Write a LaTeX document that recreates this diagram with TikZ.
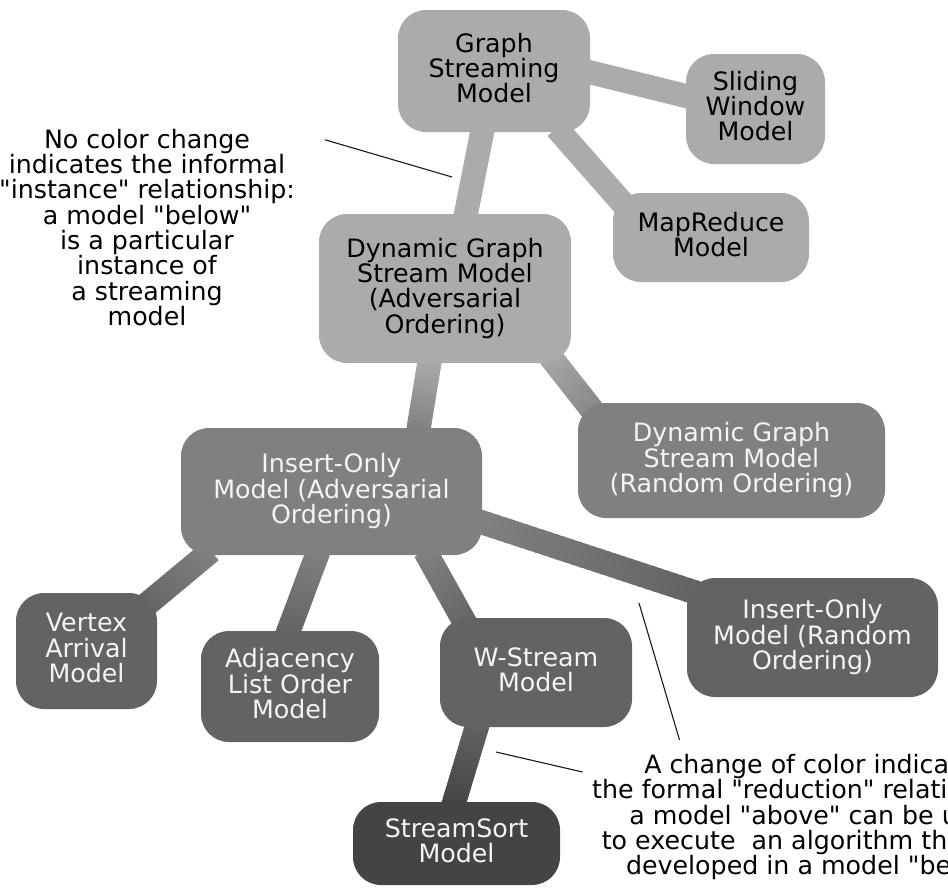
\documentclass[tikz,border=0pt]{standalone}
\usepackage{fontspec}
\setmainfont{DejaVu Sans}[Ligatures=TeXOff]
\usetikzlibrary{calc}

\pgfdeclarelayer{links}
\pgfsetlayers{links,main}

% grey levels of the model hierarchy
\definecolor{lvA}{HTML}{ABABAB}
\definecolor{lvB}{HTML}{808080}
\definecolor{lvC}{HTML}{636363}
\definecolor{lvD}{HTML}{444444}
\definecolor{lighttext}{HTML}{F4F4F4}

\newcommand\mapfont{\fontsize{25.3pt}{25.3pt}\selectfont}

% thick connector whose colour fades from #5 (at node #1) to #6 (at node #3);
% #2 and #4 are offsets of the end points from the node centres
\newcommand\gradlink[6]{%
  \foreach \i in {0,...,29}{%
    \pgfmathtruncatemacro\pct{round(100*(\i+0.5)/30)}%
    \draw[linkline, draw=#6!\pct!#5]
      ($([shift={#2}]#1.center)!{\i/30}!([shift={#4}]#3.center)$) --
      ($([shift={#2}]#1.center)!{min(1,(\i+1.5)/30)}!([shift={#4}]#3.center)$);
  }%
}

\begin{document}
\begin{tikzpicture}[x=1pt,y=-1pt,
  model/.style={rectangle, rounded corners=28pt, inner sep=0pt, align=center,
    font=\mapfont,
    execute at begin node={\rule{0pt}{21pt}},
    execute at end node={\rule[-6pt]{0pt}{6pt}}},
  lightbox/.style={model, fill=lvA, text=black},
  midbox/.style={model, fill=lvB, text=lighttext},
  darkbox/.style={model, fill=lvC, text=lighttext},
  deepbox/.style={model, fill=lvD, text=lighttext,
    execute at begin node={\rule{0pt}{29pt}}},
  note/.style={inner sep=0pt, align=center, font=\mapfont, text=black},
  linkline/.style={line width=24pt, line cap=butt},
  pointer/.style={draw=black!90, line width=1.1pt}]

\useasboundingbox (0,0) rectangle (948,887);
\clip (0,0) rectangle (948,887);

% models
\node[lightbox, minimum width=192, minimum height=122] (gs)  at (494,71)      {Graph\\Streaming\\Model};
\node[lightbox, minimum width=139, minimum height=110] (sw)  at (755.5,109)   {Sliding\\Window\\Model};
\node[lightbox, minimum width=196, minimum height=89]  (mr)  at (711,237.5)   {MapReduce\\Model};
\node[lightbox, minimum width=252, minimum height=149] (dyn) at (445,288.5)   {Dynamic Graph\\Stream Model\\(Adversarial\\Ordering)};
\node[midbox,   minimum width=307, minimum height=115] (dr)  at (731.5,460.5) {Dynamic Graph\\Stream Model\\(Random Ordering)};
\node[midbox,   minimum width=301, minimum height=127] (ioa) at (331.5,491.5) {Insert-Only\\Model (Adversarial\\Ordering)};
\node[darkbox,  minimum width=141, minimum height=116] (va)  at (86.5,651)    {Vertex\\Arrival\\Model};
\node[darkbox,  minimum width=178, minimum height=111] (adj) at (290,686.5)   {Adjacency\\List Order\\Model};
\node[darkbox,  minimum width=192, minimum height=109] (ws)  at (536,672.5)   {W-Stream\\Model};
\node[darkbox,  minimum width=251, minimum height=119] (ior) at (812.5,637.5) {Insert-Only\\Model (Random\\Ordering)};
\node[deepbox,  minimum width=207, minimum height=83]  (ss)  at (456.5,843.5) {StreamSort\\Model};

% explanatory notes
\node[note, anchor=north] (noteA) at (147,128.8)
  {No color change\\indicates the informal\\"instance" relationship:\\a model "below"\\is a particular\\instance of\\a streaming\\model};
\node[note, anchor=north] (noteB) at (816,754)
  {A change of color indicates\\the formal "reduction" relationship:\\a model "above" can be used\\to execute\ \ an algorithm that was\\developed in a model "below"};

\coordinate (ptA) at (452,177);
\coordinate (ptB) at (496,752);
\coordinate (ptC) at (639,603);
\draw[pointer] ([shift={(30,11)}]noteA.north east) -- (ptA);
\draw[pointer] ([shift={(-9.5,18)}]noteB.north west) -- (ptB);
\draw[pointer] ([shift={(87.5,-14)}]noteB.north west) -- (ptC);

% connectors, kept behind the models
\begin{pgfonlayer}{links}
  \draw[linkline, draw=lvA] ([shift={(-11,57)}]gs.center) -- ([shift={(20,-70)}]dyn.center);
  \draw[linkline, draw=lvA] ([shift={(91,0)}]gs.center) -- ([shift={(-65.5,-12)}]sw.center);
  \draw[linkline, draw=lvA] ([shift={(62.5,57)}]gs.center) -- ([shift={(-78,-22.5)}]mr.center);
  \gradlink{dyn}{(100,61.5)}{dr}{(-127.5,-35.5)}{lvA}{lvB}
  \gradlink{dyn}{(-15,70.5)}{ioa}{(86.5,-59.5)}{lvA}{lvB}
  \gradlink{ioa}{(146.5,29.5)}{ior}{(-112.5,-43.5)}{lvB}{lvC}
  \gradlink{ioa}{(-120.5,59.5)}{va}{(53.5,-41)}{lvB}{lvC}
  \gradlink{ioa}{(-13,59.5)}{adj}{(-3,-51.5)}{lvB}{lvC}
  \gradlink{ioa}{(93.5,59.5)}{ws}{(-67,-42.5)}{lvB}{lvC}
  \gradlink{ws}{(-58,50.5)}{ss}{(-3.5,-37.5)}{lvC}{lvD}
\end{pgfonlayer}
\end{tikzpicture}
\end{document}
